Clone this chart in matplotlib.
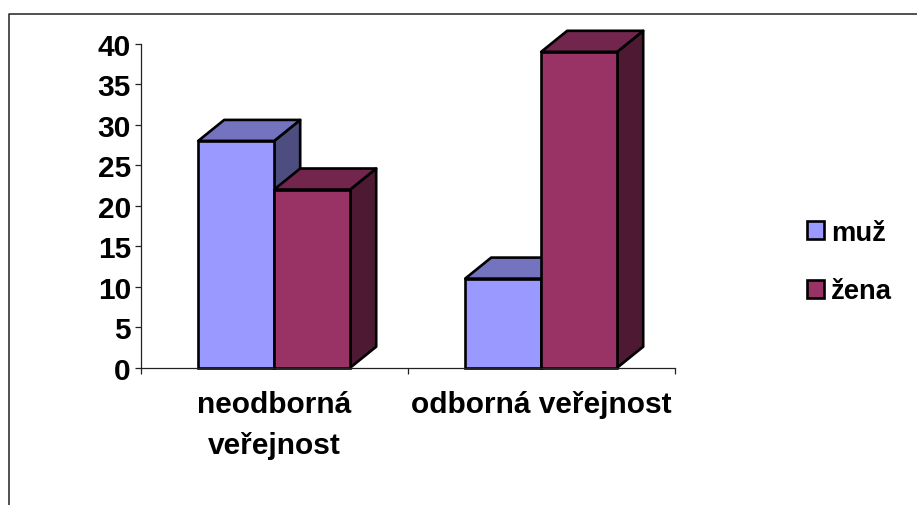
import matplotlib
matplotlib.use("Agg")
import matplotlib.pyplot as plt
from matplotlib.patches import Polygon
from matplotlib.lines import Line2D

categories = ["neodborná\nveřejnost", "odborná veřejnost"]
series_names = ["muž", "žena"]
muz = [28, 11]
zena = [22, 39]
y_ticks = [0, 5, 10, 15, 20, 25, 30, 35, 40]

W, H = 917, 506
plt.rcParams["font.family"] = ["Liberation Sans", "DejaVu Sans"]
plt.rcParams["font.weight"] = "bold"
fig = plt.figure(figsize=(W / 100, H / 100), dpi=100, facecolor="white")

# chart frame (top and left edges run off the picture)
fig.add_artist(Line2D([9 / W, 9 / W, 1], [0, 1 - 15 / H, 1 - 15 / H], color="#222222", lw=1.1))

L, R, T, B = 140.7, 674.7, 44.7, 368.7
ax = fig.add_axes([L / W, 1 - B / H, (R - L) / W, (B - T) / H])
ax.set_xlim(0, 2)
ax.set_ylim(0, 40)
ax.patch.set_visible(False)

bw = 76 / 267
dx = 26 / 267
dy = 21 / 8.1
colors = [("#9999FF", "#7373BF", "#4D4D80"), ("#993366", "#73264D", "#4D1933")]
EDGE = "black"
LW = 1.9

def bar3d(x0, value, cols):
    front, top, side = cols
    x1 = x0 + bw
    ax.add_patch(Polygon([(x1, 0), (x1 + dx, dy), (x1 + dx, value + dy), (x1, value)],
                         closed=True, fc=side, ec=EDGE, lw=LW, clip_on=False, joinstyle="round"))
    ax.add_patch(Polygon([(x0, value), (x0 + dx, value + dy), (x1 + dx, value + dy), (x1, value)],
                         closed=True, fc=top, ec=EDGE, lw=LW, clip_on=False, joinstyle="round"))
    ax.bar(x0, value, width=bw, align="edge", color=front, edgecolor=EDGE, linewidth=LW,
           clip_on=False, zorder=2)

for i in range(len(categories)):
    c = i + 0.5
    bar3d(c - bw, muz[i], colors[0])
    bar3d(c, zena[i], colors[1])

for s in ("top", "right"):
    ax.spines[s].set_visible(False)
for s in ("left", "bottom"):
    ax.spines[s].set_color("#222222")
    ax.spines[s].set_linewidth(0.9)

ax.set_yticks(y_ticks)
ax.set_xticks([0, 1, 2])
ax.set_xticklabels([])
ax.tick_params(axis="y", length=4, width=0.9, color="#222222", labelsize=21.5, pad=3)
ax.tick_params(axis="x", length=4, width=0.9, color="#222222")
for lab in ax.get_yticklabels():
    lab.set_fontweight("bold")

ax.text(0.5, -22 / 8.1, categories[0], ha="center", va="top", fontsize=21.5, fontweight="bold",
        linespacing=1.6)
ax.text(1.5, -22 / 8.1, categories[1], ha="center", va="top", fontsize=21.5, fontweight="bold")

# legend
for name, col, ytop, base in zip(series_names, colors, (221.5, 280.5), (241, 299)):
    fig.add_artist(plt.Rectangle((806.5 / W, 1 - (ytop + 18) / H), 17.5 / W, 18 / H, fc=col[0], ec="black",
                                 lw=1.9, transform=fig.transFigure))
    fig.text(831 / W, 1 - base / H, name, fontsize=19.7, fontweight="bold", va="baseline", ha="left")

fig.savefig("out.png", dpi=100)
